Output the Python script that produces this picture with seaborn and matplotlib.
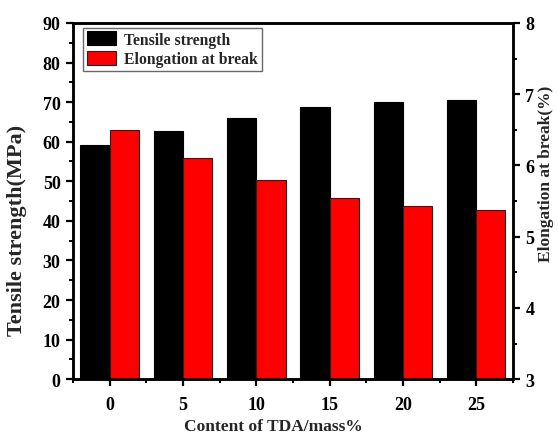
import matplotlib
matplotlib.use("Agg")
import matplotlib.pyplot as plt
from matplotlib.ticker import MultipleLocator
import seaborn as sns
import pandas as pd

# TDA content (mass%) and measured properties
content = [0, 5, 10, 15, 20, 25]
tensile_strength = [59.2, 62.8, 65.9, 68.7, 69.9, 70.6]      # MPa
elongation_at_break = [6.50, 6.11, 5.80, 5.54, 5.43, 5.38]   # %

sns.set_theme(style="ticks")
plt.rcParams["font.family"] = ["Liberation Serif", "DejaVu Serif"]
plt.rcParams["font.weight"] = "bold"
plt.rcParams["axes.labelweight"] = "bold"

df = pd.DataFrame({
    "content": content,
    "ts_pos": [c - 1 for c in content],
    "el_pos": [c + 1 for c in content],
    "ts": tensile_strength,
    "el": elongation_at_break,
})

fig = plt.figure(figsize=(5.58, 4.35), dpi=100)
ax = fig.add_axes([0.131, 0.126, 0.788, 0.819])
ax2 = ax.twinx()

# black bars sit just left of each tick, red bars just right
sns.barplot(data=df, x="ts_pos", y="ts", native_scale=True, width=0.4,
            color="black", edgecolor="black", linewidth=0.8, saturation=1,
            ax=ax, label="Tensile strength", zorder=2)
sns.barplot(data=df, x="el_pos", y="el", native_scale=True, width=0.4,
            color="#ff0000", edgecolor="#222222", linewidth=0.8, saturation=1,
            ax=ax2, label="Elongation at break", zorder=2)

ax.set_xlim(-2.5, 27.5)
ax.set_ylim(0, 90)
ax2.set_ylim(3, 8)

ax.xaxis.set_major_locator(MultipleLocator(5))
ax.xaxis.set_minor_locator(MultipleLocator(2.5))
ax.yaxis.set_major_locator(MultipleLocator(10))
ax.yaxis.set_minor_locator(MultipleLocator(5))
ax2.yaxis.set_major_locator(MultipleLocator(1))
ax2.yaxis.set_minor_locator(MultipleLocator(0.5))

for a in (ax, ax2):
    for s in a.spines.values():
        s.set_linewidth(1.8)
        s.set_color("black")
        s.set_visible(True)
    a.tick_params(which="major", direction="out", length=5, width=1.6,
                  colors="black")
    a.tick_params(which="minor", direction="out", length=3, width=1.4,
                  colors="black")

ax.tick_params(axis="y", labelsize=13, pad=4)
ax2.tick_params(axis="y", labelsize=13, pad=4)
ax.tick_params(axis="x", labelsize=13, pad=7)
ax.set_xticks([0, 5, 10, 15, 20, 25])
ax.set_xticklabels([str(c) for c in content])
for a in (ax, ax2):
    for lbl in a.get_xticklabels() + a.get_yticklabels():
        lbl.set_fontweight("bold")

ax.set_xlabel("Content of TDA/mass%", fontsize=12.5, fontweight="bold")
ax.xaxis.set_label_coords(0.456, -0.108)
ax.set_ylabel("Tensile strength(MPa)", fontsize=16, fontweight="bold")
ax.yaxis.set_label_coords(-0.104, 0.42)
ax2.set_ylabel("Elongation at break(%)", fontsize=12.5, fontweight="bold")
ax2.yaxis.set_label_coords(1.058, 0.58)

h1, l1 = ax.get_legend_handles_labels()
h2, l2 = ax2.get_legend_handles_labels()
if ax.get_legend():
    ax.get_legend().remove()
if ax2.get_legend():
    ax2.get_legend().remove()
leg = ax2.legend(h1 + h2, l1 + l2, loc="upper left", bbox_to_anchor=(0.023, 0.986),
                 frameon=True, fancybox=False, edgecolor="#444444",
                 prop={"weight": "bold", "size": 11.3}, handlelength=1.9,
                 handleheight=1.0, borderpad=0.22, labelspacing=0.2,
                 handletextpad=0.5, borderaxespad=0.0)
leg.get_frame().set_linewidth(1.0)

fig.savefig("out.png", dpi=100)
